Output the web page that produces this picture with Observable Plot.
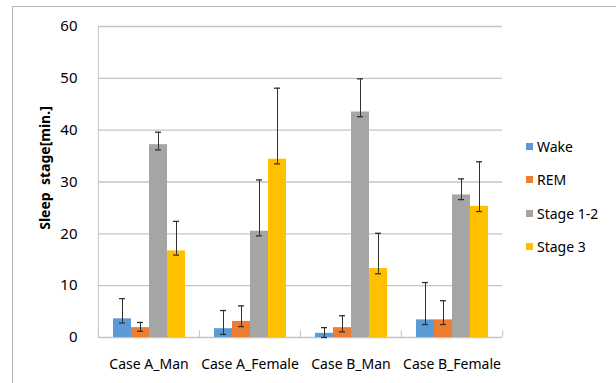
<!DOCTYPE html>
<html><head><meta charset="utf-8">
<script src="https://cdn.jsdelivr.net/npm/d3@7"></script>
<script src="https://cdn.jsdelivr.net/npm/@observablehq/plot@0.6"></script>
<style>
body{margin:0;background:#fff;}
#wrap{position:relative;width:616px;height:383px;overflow:hidden;font-family:"Noto Sans",sans-serif;}
#border{position:absolute;left:12px;top:6px;width:700px;height:500px;border-left:1px solid #b4b4b4;border-top:1px solid #b4b4b4;}
#chart{position:absolute;left:0;top:0;}
#ytitle{position:absolute;left:44px;top:168px;transform:translate(-50%,-50%) rotate(-90deg);font-weight:bold;font-size:14px;white-space:pre;color:#000;}
.lg{position:absolute;left:526px;font-size:14px;color:#000;display:flex;align-items:center;height:20px;}
.lg span{display:inline-block;width:7px;height:7px;margin-right:4px;}
</style></head>
<body>
<div id="wrap"><div id="border"></div><div id="chart"></div><div id="ytitle">Sleep  stage[min.]</div></div>
<script>
const cases = ["Case A_Man", "Case A_Female", "Case B_Man", "Case B_Female"];
const stages = ["Wake", "REM", "Stage 1-2", "Stage 3"];
const colors = ["#5B9BD5", "#ED7D31", "#A5A5A5", "#FFC000"];
const yTicks = [0, 10, 20, 30, 40, 50, 60];

const wake = [3.6, 1.7, 0.8, 3.4];
const rem = [1.9, 3.1, 1.9, 3.4];
const stage12 = [37.2, 20.5, 43.5, 27.5];
const stage3 = [16.7, 34.4, 13.3, 25.3];

const wakeHi = [7.5, 5.2, 1.9, 10.6];
const wakeLo = [2.8, 0.6, 0.0, 2.5];
const remHi = [2.9, 6.1, 4.2, 7.1];
const remLo = [1.2, 2.1, 1.1, 2.5];
const stage12Hi = [39.6, 30.4, 49.9, 30.6];
const stage12Lo = [36.2, 19.6, 42.6, 26.6];
const stage3Hi = [22.4, 48.1, 20.1, 33.9];
const stage3Lo = [15.9, 33.5, 12.3, 24.3];

const series = [[wake, wakeLo, wakeHi], [rem, remLo, remHi], [stage12, stage12Lo, stage12Hi], [stage3, stage3Lo, stage3Hi]];
const rows = [];
cases.forEach((c, i) => stages.forEach((s, j) => {
  rows.push({case: c, stage: s, value: series[j][0][i], lo: series[j][1][i], hi: series[j][2][i]});
}));

const W = 616, H = 383, ML = 97, MR = 114, MT = 26, MB = 46;
const half = (W - ML - MR) / cases.length / 2;
const axisColor = "#c4c4c4";
const errColor = "#303030";

const chart = Plot.plot({
  width: W, height: H,
  marginLeft: ML, marginRight: MR, marginTop: MT, marginBottom: MB,
  style: {fontFamily: "'Noto Sans', sans-serif", fontSize: "14px", color: "#000", background: "transparent"},
  fx: {domain: cases, padding: 0, label: null},
  x: {domain: stages, paddingInner: 0, paddingOuter: 0.77, axis: null},
  y: {domain: [0, 60], label: null},
  color: {domain: stages, range: colors},
  marks: [
    Plot.ruleY(yTicks, {stroke: axisColor, strokeWidth: 1.3}),
    Plot.axisY({ticks: yTicks, tickSize: 0, tickPadding: 21, label: null, fontSize: 15}),
    Plot.axisFx({anchor: "bottom", tickSize: 0, tickPadding: 22, label: null}),
    Plot.axisFx({anchor: "bottom", tickSize: 7, dy: -7, dx: -half, tickFormat: () => "", label: null, stroke: axisColor}),
    Plot.axisFx({anchor: "bottom", ticks: [cases[cases.length - 1]], tickSize: 7, dy: -7, dx: half, tickFormat: () => "", label: null, stroke: axisColor}),
    Plot.axisFx({anchor: "bottom", ticks: [cases[0]], tickSize: H - MT - MB, dy: -(H - MT - MB), dx: -half, tickFormat: () => "", label: null, stroke: axisColor}),
    Plot.barY(rows, {fx: "case", x: "stage", y: "value", fill: "stage"}),
    Plot.ruleX(rows, {fx: "case", x: "stage", y1: "lo", y2: "hi", stroke: errColor}),
    Plot.tickY(rows, {fx: "case", x: "stage", y: "lo", stroke: errColor, insetLeft: 6, insetRight: 6, strokeWidth: 1.3}),
    Plot.tickY(rows, {fx: "case", x: "stage", y: "hi", stroke: errColor, insetLeft: 6, insetRight: 6, strokeWidth: 1.3})
  ]
});
document.getElementById("chart").appendChild(chart);

const legendY = [146, 179, 213, 246];
const wrap = document.getElementById("wrap");
stages.forEach((s, i) => {
  const d = document.createElement("div");
  d.className = "lg";
  d.style.top = (legendY[i] - 10) + "px";
  d.innerHTML = `<span style="background:${colors[i]}"></span>${s}`;
  wrap.appendChild(d);
});
</script>
</body></html>
